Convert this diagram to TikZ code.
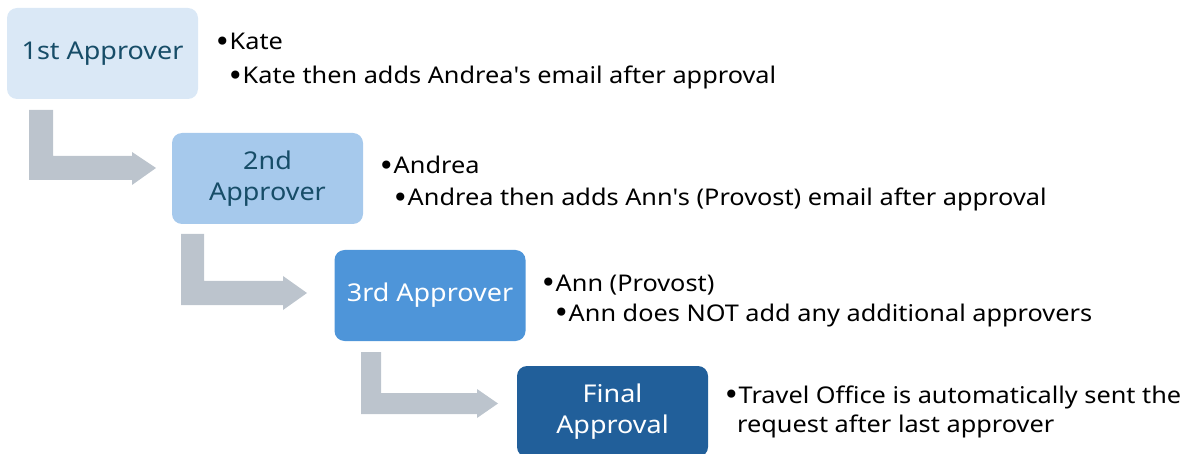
\documentclass[tikz,border=0pt]{standalone}
\usepackage{fontspec}
\setmainfont[FakeStretch=1.1]{Noto Sans}
\newfontfamily\dotfont{DejaVu Sans}
\usetikzlibrary{calc}
\definecolor{stepA}{HTML}{DAE8F6}
\definecolor{stepB}{HTML}{A6C9EC}
\definecolor{stepC}{HTML}{4E95D9}
\definecolor{stepD}{HTML}{215F9A}
\definecolor{darktxt}{HTML}{174D68}
\definecolor{arrowgray}{HTML}{BCC4CD}
\newcommand{\bul}{\raisebox{-1.5pt}{\dotfont\fontsize{28}{30}\selectfont •}\kern-1pt}
\begin{document}
\begin{tikzpicture}[x=1pt,y=-1pt,
  stepbox/.style={rounded corners=10pt, minimum width=191pt, minimum height=91pt,
    inner sep=0pt, align=center, font=\fontsize{24.5}{31.5}\selectfont},
  itemtxt/.style={anchor=base west, inner sep=0pt, font=\fontsize{23}{30}\selectfont, text=black},
  bentarrow/.style={fill=arrowgray, draw=none}]
\useasboundingbox (0,0) rectangle (1191,454);
\clip (0,0) rectangle (1191,454);

% approval steps
\node[stepbox, fill=stepA, text=darktxt] (s1) at (102.5,53.5) {1st Approver};
\node[stepbox, fill=stepB, text=darktxt] (s2) at (267.5,178.5) {2nd\\Approver};
\node[stepbox, fill=stepC, text=white] (s3) at (430,295.5) {3rd Approver};
\node[stepbox, fill=stepD, text=white] (s4) at (612.5,411.5) {Final\\Approval};

% bent arrows between steps
\fill[bentarrow] (29,110) -- (53,110) -- (53,156) -- (132,156) -- (132,152)
  -- (156,168) -- (132,185) -- (132,180) -- (29,180) -- cycle;
\fill[bentarrow] (181,234) -- (204,234) -- (204,281) -- (283,281) -- (283,276)
  -- (307,293) -- (283,310) -- (283,305) -- (181,305) -- cycle;
\fill[bentarrow] (361,352) -- (381,352) -- (381,393) -- (477,393) -- (477,389)
  -- (498,403.5) -- (477,418) -- (477,414) -- (361,414) -- cycle;

% notes
\node[itemtxt] (n1a) at (214,50) {\bul Kate};
\node[itemtxt] (n1b) at (227,84) {\bul Kate then adds Andrea\textquotesingle s email after approval};
\node[itemtxt] (n2a) at (378,174) {\bul Andrea};
\node[itemtxt] (n2b) at (392,206) {\bul Andrea then adds Ann\textquotesingle s (Provost) email after approval};
\node[itemtxt] (n3a) at (540,291) {\bul Ann (Provost)};
\node[itemtxt] (n3b) at (553,321) {\bul Ann does NOT add any additional approvers};
\node[itemtxt] (n4a) at (723,403) {\bul Travel Office is automatically sent the};
\node[itemtxt] (n4b) at (737,432) {request after last approver};
\end{tikzpicture}
\end{document}
